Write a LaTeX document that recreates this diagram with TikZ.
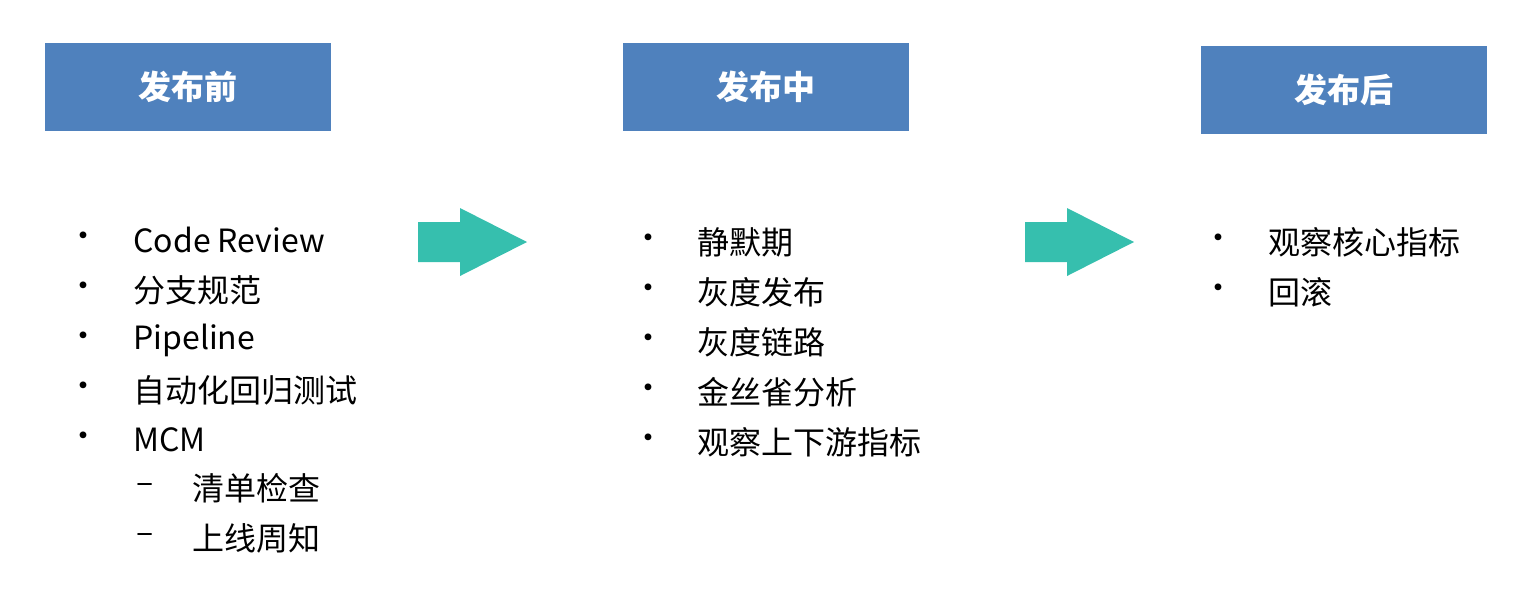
\documentclass[tikz,border=0pt]{standalone}
\usepackage{fontspec}
\setmainfont{Noto Sans CJK SC}
\newfontfamily\cjkb[BoldFont={* Bold}]{Noto Sans CJK SC}
\definecolor{hdr}{HTML}{4F81BD}
\definecolor{teal}{HTML}{36BFAE}
\begin{document}
\begin{tikzpicture}[x=0.5pt,y=-0.5pt,
  hbox/.style={fill=hdr,draw=none,minimum width=143pt,minimum height=44pt,text=white,font=\fontsize{16.5}{18}\selectfont\bfseries},
  itm/.style={anchor=west,inner sep=0pt,font=\fontsize{16}{18}\selectfont},
  bul/.style={inner sep=0pt,font=\fontsize{16}{18}\selectfont}]
\path[use as bounding box] (0,0) rectangle (1532,596);
\node[hbox] (h1) at (187.5,87) {发布前};
\node[hbox] (h2) at (765.5,87) {发布中};
\node[hbox] (h3) at (1343.5,90) {发布后};
\fill[teal] (418,222) -- (460,222) -- (460,208) -- (527,242) -- (460,276) -- (460,262) -- (418,262) -- cycle;
\fill[teal] (1025,222) -- (1067,222) -- (1067,208) -- (1134,242) -- (1067,276) -- (1067,262) -- (1025,262) -- cycle;
\foreach \t [count=\i] in {Code Review,分支规范,Pipeline,自动化回归测试,MCM}{
  \node[bul] (ab\i) at (83,{190+50*\i}) {•};
  \node[itm] (at\i) at (133,{190+50*\i}) {\t};}
\foreach \t [count=\i] in {清单检查,上线周知}{
  \node[bul] (ad\i) at (145,{438+50*\i}) {–};
  \node[itm] (as\i) at (192,{438+50*\i}) {\t};}
\foreach \t [count=\i] in {静默期,灰度发布,灰度链路,金丝雀分析,观察上下游指标}{
  \node[bul] (bb\i) at (648,{192+50*\i}) {•};
  \node[itm] (bt\i) at (697,{192+50*\i}) {\t};}
\foreach \t [count=\i] in {观察核心指标,回滚}{
  \node[bul] (cb\i) at (1218,{192+50*\i}) {•};
  \node[itm] (ct\i) at (1268,{192+50*\i}) {\t};}
\end{tikzpicture}
\end{document}
